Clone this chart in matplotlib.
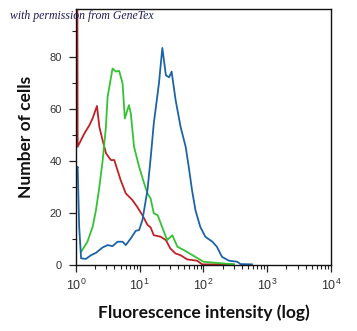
import matplotlib
matplotlib.use("Agg")
import matplotlib.pyplot as plt
from matplotlib.ticker import MultipleLocator, LogLocator

# fluorescence intensity (x) / number of cells (y)
red_x = [1.00, 1.04, 1.06, 1.35, 1.62, 1.82, 2.13, 2.32, 2.61, 2.95, 3.52, 3.98, 5.01, 6.03,
         7.67, 9.12, 11.0, 13.2, 14.8, 16.6, 21.4, 25.7, 30.2, 36.3, 43.7, 55.6, 79.4,
         95.5, 295]
red_y = [150, 150, 45.5, 50.6, 53.8, 56.4, 61.2, 53.2, 48.0, 43.0, 40.4, 40.4, 32.7, 27.6,
         25.0, 22.4, 19.2, 15.5, 14.5, 11.5, 10.9, 9.6, 6.4, 4.5, 3.8, 2.2, 1.7,
         0.3, 0.3]

green_x = [1.20, 1.51, 1.82, 2.05, 2.32, 2.61, 2.94, 3.13, 3.74, 4.22, 4.75, 5.37, 5.83,
           6.76, 7.24, 8.13, 9.77, 11.7, 13.2, 14.8, 16.6, 19.1, 22.4, 26.9, 32.4, 38.9,
           49.0, 70.8, 100, 300]
green_y = [5.1, 9.0, 14.7, 21.0, 30.0, 40.0, 53.0, 64.7, 75.6, 74.4, 74.7, 69.9, 56.4,
           61.5, 58.3, 45.5, 37.8, 31.5, 27.6, 25.6, 19.9, 19.2, 14.7, 9.6, 11.5, 7.1,
           5.8, 3.5, 1.3, 0.3]

blue_x = [1.00, 1.06, 1.12, 1.20, 1.43, 1.71, 2.05, 2.61, 3.13, 3.74, 4.48, 5.36, 6.03,
          7.24, 8.66, 9.77, 11.0, 13.2, 14.8, 16.6, 20.0, 22.6, 25.7, 28.8, 31.6, 36.5,
          43.7, 52.5, 58.9, 66.1, 75.0, 89.1, 107, 138, 162, 195, 251, 339, 380, 575]
blue_y = [36.0, 37.8, 14.7, 2.6, 2.4, 3.8, 4.7, 6.8, 7.7, 7.3, 9.0, 9.0, 7.7,
          10.3, 13.2, 13.5, 17.3, 28.8, 41.0, 54.5, 69.9, 83.5, 73.0, 72.2, 74.4, 63.5,
          53.2, 45.5, 37.5, 28.8, 21.0, 14.7, 10.9, 9.0, 7.1, 3.2, 1.7, 1.3, 0.4, 0.3]

y_ticks = [0, 20, 40, 60, 80]

plt.rcParams['font.family'] = ['Liberation Sans', 'DejaVu Sans']
plt.rcParams['mathtext.default'] = 'regular'

fig = plt.figure(figsize=(3.57, 3.31), dpi=100)
ax = fig.add_axes([0.213, 0.199, 0.714, 0.774])

ax.plot(red_x, red_y, color='#bf2226', lw=1.3)
ax.plot(green_x, green_y, color='#35c235', lw=1.3)
ax.plot(blue_x, blue_y, color='#1d64a6', lw=1.3)

ax.set_xscale('log')
ax.set_xlim(1, 1e4)
ax.set_ylim(0, 98.5)
ax.set_yticks(y_ticks)
ax.yaxis.set_minor_locator(MultipleLocator(10))
ax.xaxis.set_major_locator(LogLocator(base=10, numticks=10))
ax.xaxis.set_minor_locator(LogLocator(base=10, subs=range(2, 10), numticks=20))

ax.tick_params(which='major', direction='out', length=5, width=0.9, colors='#222',
               labelsize=8, labelcolor='#333', pad=4)
ax.tick_params(axis='x', which='major', labelsize=9)
ax.tick_params(which='minor', direction='out', length=3, width=0.8, colors='#222')
ax.tick_params(axis='y', which='major', pad=5)
for s in ax.spines.values():
    s.set_linewidth(1.0)
    s.set_color('#111')

ax.set_xlabel('Fluorescence intensity (log)', family='Lato', fontweight='bold',
              fontsize=12.5, labelpad=8, color='#111')
ax.set_ylabel('Number of cells', family='Lato', fontweight='bold',
              fontsize=12.5, labelpad=11, color='#111')

fig.text(0.028, 0.952, 'with permission from GeneTex', family='Liberation Serif',
         style='italic', fontsize=8.5, color='#1c1c58', va='center')

fig.savefig('out.png', dpi=100)
